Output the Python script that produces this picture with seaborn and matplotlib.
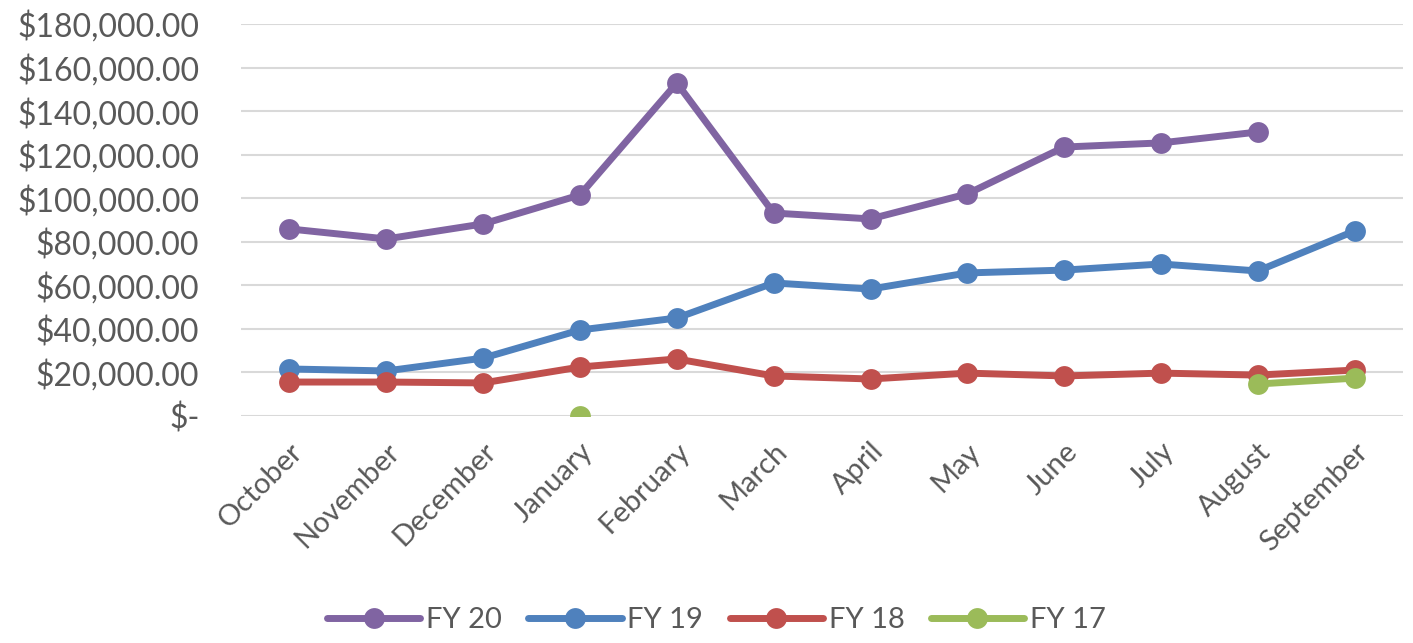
import numpy as np
import pandas as pd
import matplotlib
matplotlib.use("Agg")
import matplotlib.pyplot as plt
import seaborn as sns
from matplotlib.ticker import FuncFormatter
from matplotlib.lines import Line2D

months = ["October", "November", "December", "January", "February", "March",
          "April", "May", "June", "July", "August", "September"]
fy20 = [85900, 81300, 88200, 101500, 152900, 93200, 90500, 102000, 123500, 125400, 130400, np.nan]
fy19 = [21600, 20700, 26600, 39500, 45000, 61100, 58300, 65700, 67000, 69800, 66600, 85000]
fy18 = [15600, 15600, 15200, 22500, 26200, 18400, 17000, 19700, 18400, 19700, 18800, 21100]
fy17 = [np.nan, np.nan, np.nan, 0, np.nan, np.nan, np.nan, np.nan, np.nan, np.nan, 14700, 17400]
series_names = ["FY 20", "FY 19", "FY 18", "FY 17"]
colors = ["#8064A2", "#4F81BD", "#C0504D", "#9BBB59"]
yticks = list(range(0, 180001, 20000))

sns.set_style("white")
plt.rcParams['font.family'] = ['Lato', 'DejaVu Sans']

rows = []
for name, vals in zip(series_names, [fy20, fy19, fy18, fy17]):
    seg = 0
    prev_nan = True
    for i, v in enumerate(vals):
        if np.isnan(v):
            prev_nan = True
            continue
        if prev_nan:
            seg += 1
        prev_nan = False
        rows.append({"x": i, "value": v, "series": name, "seg": f"{name}-{seg}"})
df = pd.DataFrame(rows)

fig = plt.figure(figsize=(14.13, 6.43), dpi=100)
ax = fig.add_axes([0.1706, 0.353, 0.8224, 0.6097])

sns.lineplot(data=df, x="x", y="value", hue="series", units="seg", estimator=None,
             hue_order=series_names, palette=colors, marker="o", markersize=15,
             markeredgewidth=0, linewidth=5, ax=ax, legend=False, sort=True)

ax.set_xlim(-0.5, 11.5)
ax.set_ylim(0, 180000)
ax.set_yticks(yticks)
ax.yaxis.set_major_formatter(FuncFormatter(lambda v, p: "$-" if v == 0 else f"${v:,.2f}"))
ax.set_xticks(range(len(months)))
ax.set_xticklabels(months, rotation=45, ha="right", rotation_mode="anchor")
ax.grid(axis="y", color="#D9D9D9", linewidth=1.5)
ax.set_axisbelow(True)
for s in ax.spines.values():
    s.set_visible(False)
ax.tick_params(axis="y", length=0, pad=30, labelsize=23, labelcolor="#595959")
ax.tick_params(axis="x", length=0, pad=16, labelsize=21, labelcolor="#595959")
ax.set_xlabel("")
ax.set_ylabel("")

handles = [Line2D([0], [0], color=c, marker="o", markersize=15, markeredgewidth=0, linewidth=5)
           for c in colors]
fig.legend(handles, series_names, loc="center", bbox_to_anchor=(0.507, 0.036), ncol=4,
           frameon=False, fontsize=21, labelcolor="#595959", handlelength=3.2,
           columnspacing=0.9, handletextpad=0.2)

fig.savefig("out.png", dpi=100)
